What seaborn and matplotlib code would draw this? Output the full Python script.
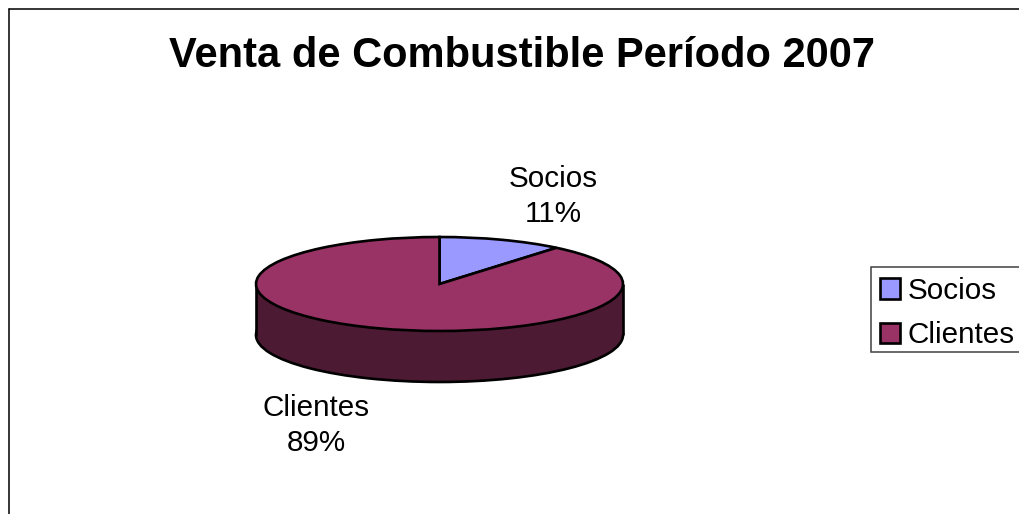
import matplotlib
matplotlib.use('Agg')
import seaborn as sns
import matplotlib.pyplot as plt
from matplotlib.lines import Line2D
from matplotlib.patches import Rectangle

categories = ['Socios', 'Clientes']
shares = [11, 89]
title = 'Venta de Combustible Período 2007'

W, H = 1019, 514
cx, cy = 439.5, 284     # pie centre in pixels
rx, ry = 183.5, 47
depth = 51 / ry

sns.set_theme(style='white')
plt.rcParams['font.family'] = ['Liberation Sans', 'DejaVu Sans']
palette = sns.color_palette(['#9999FF', '#993366'])
side_color = '#4C1A33'
edge = dict(edgecolor='black', linewidth=1.9)

fig = plt.figure(figsize=(W / 100, H / 100), dpi=100, facecolor='white')
ax = fig.add_axes([0, 0, 1, 1])

# side of the disc: a dark pie lower down plus a band up to the top pie
ax.pie([sum(shares)], colors=[side_color], startangle=90, center=(0, -depth),
       wedgeprops=edge)
ax.add_patch(Rectangle((-1, -depth), 2, depth, facecolor=side_color, edgecolor='none', zorder=2))
ax.vlines([-1, 1], -depth, 0, color='black', linewidth=1.9, zorder=3)

wedges, _ = ax.pie(shares, colors=palette, startangle=90, counterclock=False,
                   wedgeprops=edge)
for w in wedges:
    w.set_zorder(4)

ax.set_aspect('auto')
ax.set_xlim(-cx / rx, (W - cx) / rx)
ax.set_ylim(-(H - cy) / ry, cy / ry)
ax.axis('off')

fig.text(522 / W, 1 - 56 / H, title, ha='center', va='center',
         fontsize=30, fontweight='bold', color='black')

label_pos = [(553, 196.5), (316, 425.5)]
for cat, val, (px, py) in zip(categories, shares, label_pos):
    fig.text(px / W, 1 - py / H, f'{cat}\n{val}%', ha='center', va='center',
             fontsize=21.3, color='black', linespacing=1.36)

# only top and left of the chart border fall inside the picture
fig.add_artist(Line2D([8.5 / W, 8.5 / W], [0, 1 - 9 / H], color='black', linewidth=1.1))
fig.add_artist(Line2D([8.5 / W, 1], [1 - 9 / H, 1 - 9 / H], color='black', linewidth=1.1))

# legend frame drawn apart so its padding can differ from the row spacing
fig.add_artist(Rectangle((871 / W, 1 - 352 / H), 160 / W, 85 / H, transform=fig.transFigure,
                         facecolor='white', edgecolor='#404040', linewidth=1.1))
leg = fig.legend(wedges, categories, loc='upper left', bbox_to_anchor=(871 / W, 1 - 268 / H),
                 borderaxespad=0, fontsize=21.3, frameon=False, labelcolor='black',
                 handlelength=0.68, handleheight=0.68, handletextpad=0.25,
                 labelspacing=0.55, borderpad=0.3)

fig.savefig('out.png', dpi=100)
